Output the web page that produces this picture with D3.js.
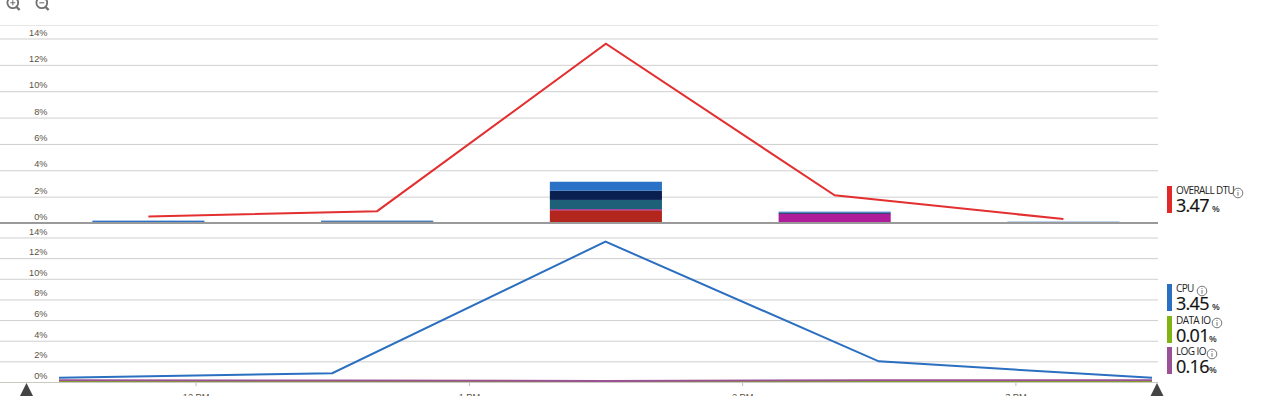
<!DOCTYPE html>
<meta charset="utf-8">
<style>
  html, body { margin: 0; padding: 0; background: #fff; overflow: hidden; }
  svg { display: block; }
  .tick text { font: 9.2px "Liberation Sans", Arial, sans-serif; fill: #5a5245; }
  .legend-name { font: 10px "Open Sans", sans-serif; fill: #222; letter-spacing: -0.6px; }
  .legend-value { font: 18px "Open Sans", sans-serif; fill: #111; letter-spacing: -0.7px; stroke: #111; stroke-width: 0.2px; }
  .legend-unit { font: 600 9px "Open Sans", sans-serif; fill: #333; }
</style>
<script src="https://d3js.org/d3.v7.min.js"></script>
<div id="my_dataviz"></div>
<script>

// values
var yTicks = [0, 2, 4, 6, 8, 10, 12, 14];
var buckets = ["11:30", "12:30", "13:30", "14:30", "15:30"];
var overallDtu = [0.5, 0.9, 13.6, 2.1, 0.3];
var cpu = [0.4, 0.85, 13.6, 2.0, 0.4];
var dataIo = [0.01, 0.01, 0.01, 0.01, 0.01];
var logIo = [0.16, 0.15, 0.1, 0.16, 0.18];

// stacked bars in the top chart, bottom layer first
var barRed = [0, 0, 0.97, 0, 0];
var barMagenta = [0, 0.05, 0.08, 0.7, 0];
var barTeal = [0, 0, 0.7, 0, 0];
var barNavy = [0, 0.07, 0.7, 0.08, 0];
var barBlue = [0.18, 0.06, 0.68, 0.08, 0.1];
var barKeys = ["red", "magenta", "teal", "navy", "blue"];
var barColors = ["#b3261e", "#ae1c9a", "#1d6078", "#0a2050", "#2b72c6"];

var timeTicks = ["12:00", "13:00", "14:00", "15:00"];
var timeLabels = ["12 PM", "1 PM", "2 PM", "3 PM"];

var legendNames = ["OVERALL DTU", "CPU", "DATA IO", "LOG IO"];
var legendValues = ["3.47", "3.45", "0.01", "0.16"];
var legendColors = ["#e02a2a", "#2b6fc0", "#7fb414", "#9b5294"];

var width = 1280, height = 396, gridRight = 1158;

var svg = d3.select("#my_dataviz")
  .append("svg")
    .attr("width", width)
    .attr("height", height);

var parseTime = d3.timeParse("%H:%M");

// top chart is placed by bucket, bottom one is a real time axis
var xBand = d3.scaleBand()
  .domain(buckets)
  .range([34, 1177.8])
  .paddingInner(0.51)
  .paddingOuter(0.255);

var xTime = d3.scaleTime()
  .domain([parseTime("11:30"), parseTime("15:30")])
  .range([59, 1152]);

var yTop = d3.scaleLinear().domain([0, 14]).range([223, 38.5]);
var yBottom = d3.scaleLinear().domain([0, 14]).range([382, 237.5]);

function drawGrid(y, labelShift) {
  var g = svg.append("g")
    .call(d3.axisRight(y).tickValues(yTicks).tickSize(gridRight).tickFormat(function (d) { return d + "%"; }));
  g.select(".domain").remove();
  g.selectAll(".tick line").attr("stroke", "#cfcfcf").attr("stroke-width", 1);
  g.selectAll(".tick text")
    .attr("x", 47.5)
    .attr("dy", labelShift)
    .attr("text-anchor", "end");
}

// top edge of the upper chart
svg.append("line")
  .attr("x1", 0).attr("x2", gridRight)
  .attr("y1", 25.5).attr("y2", 25.5)
  .attr("stroke", "#e6e6e6");

drawGrid(yTop, -3.5);
drawGrid(yBottom, -3.5);

// stacked bars
var table = buckets.map(function (b, i) {
  return { bucket: b, red: barRed[i], magenta: barMagenta[i], teal: barTeal[i], navy: barNavy[i], blue: barBlue[i] };
});
var stacked = d3.stack().keys(barKeys)(table);

svg.append("g")
  .selectAll("g")
  .data(stacked)
  .enter()
  .append("g")
    .attr("fill", function (d, i) { return barColors[i]; })
  .selectAll("rect")
  .data(function (d) { return d; })
  .enter()
  .append("rect")
    .attr("x", function (d) { return xBand(d.data.bucket); })
    .attr("width", xBand.bandwidth())
    .attr("y", function (d) { return yTop(d[1]); })
    .attr("height", function (d) { return yTop(d[0]) - yTop(d[1]); });

// baseline of the upper chart goes over the bars
svg.append("line")
  .attr("x1", 0).attr("x2", gridRight)
  .attr("y1", 223).attr("y2", 223)
  .attr("stroke", "#9a9a9a")
  .attr("stroke-width", 2);

// red line
var lineTop = d3.line()
  .x(function (d, i) { return xBand(buckets[i]) + xBand.bandwidth() / 2; })
  .y(function (d) { return yTop(d); });

svg.append("path")
  .datum(overallDtu)
  .attr("fill", "none")
  .attr("stroke", "#e32f2f")
  .attr("stroke-width", 2)
  .attr("d", lineTop);

// lines of the bottom chart
var lineBottom = d3.line()
  .x(function (d, i) { return xTime(parseTime(buckets[i])); })
  .y(function (d) { return yBottom(d); });

var bottomSeries = [dataIo, cpu, logIo];
var bottomColors = [legendColors[2], legendColors[1], legendColors[3]];

svg.append("g")
  .selectAll("path")
  .data(bottomSeries)
  .enter()
  .append("path")
    .attr("fill", "none")
    .attr("stroke", function (d, i) { return bottomColors[i]; })
    .attr("stroke-width", 2)
    .attr("d", lineBottom);

// time axis, its labels are cut by the window like in the original
var timeAxis = svg.append("g")
  .attr("transform", "translate(0,382)")
  .call(d3.axisBottom(xTime)
    .tickValues(timeTicks.map(parseTime))
    .tickSize(4)
    .tickPadding(7)
    .tickFormat(function (d, i) { return timeLabels[i]; }));
timeAxis.select(".domain").remove();
timeAxis.selectAll(".tick line").attr("stroke", "#bdbdbd");

// the range line and its two handles
svg.append("line")
  .attr("x1", 0).attr("x2", gridRight)
  .attr("y1", 382.5).attr("y2", 382.5)
  .attr("stroke", "#c9c9c0");

svg.append("g")
  .selectAll("path")
  .data([26.5, 1157])
  .enter()
  .append("path")
    .attr("fill", "#444")
    .attr("d", function (d) { return "M" + d + ",383L" + (d + 6.5) + ",396L" + (d - 6.5) + ",396Z"; });

// zoom icons
var zoomIcons = svg.append("g")
  .selectAll("g")
  .data(["plus", "minus"])
  .enter()
  .append("g")
    .attr("transform", function (d, i) { return "translate(" + (12.8 + i * 29) + ",2.8)"; })
    .attr("fill", "none")
    .attr("stroke", "#707070");
zoomIcons.append("circle").attr("r", 5.4).attr("stroke-width", 1.8);
zoomIcons.append("path").attr("stroke-width", 2.4).attr("d", "M3.8,4.2L6.8,7.2");
zoomIcons.append("path").attr("stroke-width", 1.1)
  .attr("d", function (d) { return d == "plus" ? "M-2.5,0H2.5M0,-2.5V2.5" : "M-2.5,0H2.5"; });

// legend
var legendTop = [186, 284, 316, 347];
var infoX = [1238, 1202, 1217, 1212];
var unitX = [1212, 1212, 1209, 1209];

var legend = svg.append("g")
  .selectAll("g")
  .data(legendNames)
  .enter()
  .append("g")
    .attr("transform", function (d, i) { return "translate(0," + legendTop[i] + ")"; });

legend.append("rect")
  .attr("x", 1167).attr("y", 0)
  .attr("width", 5).attr("height", 27)
  .attr("fill", function (d, i) { return legendColors[i]; });

legend.append("text")
  .attr("class", "legend-name")
  .attr("x", 1176).attr("y", 8)
  .text(function (d) { return d; });

legend.append("text")
  .attr("class", "legend-value")
  .attr("x", 1176).attr("y", 26)
  .text(function (d, i) { return legendValues[i]; });

legend.append("text")
  .attr("class", "legend-unit")
  .attr("x", function (d, i) { return unitX[i]; }).attr("y", 26)
  .text("%");

var info = legend.append("g")
  .attr("transform", function (d, i) { return "translate(" + infoX[i] + ",7)"; });
info.append("circle").attr("r", 4.8).attr("fill", "none").attr("stroke", "#777");
info.append("path").attr("stroke", "#777").attr("d", "M0,-1V2.8M0,-3V-2");

</script>
